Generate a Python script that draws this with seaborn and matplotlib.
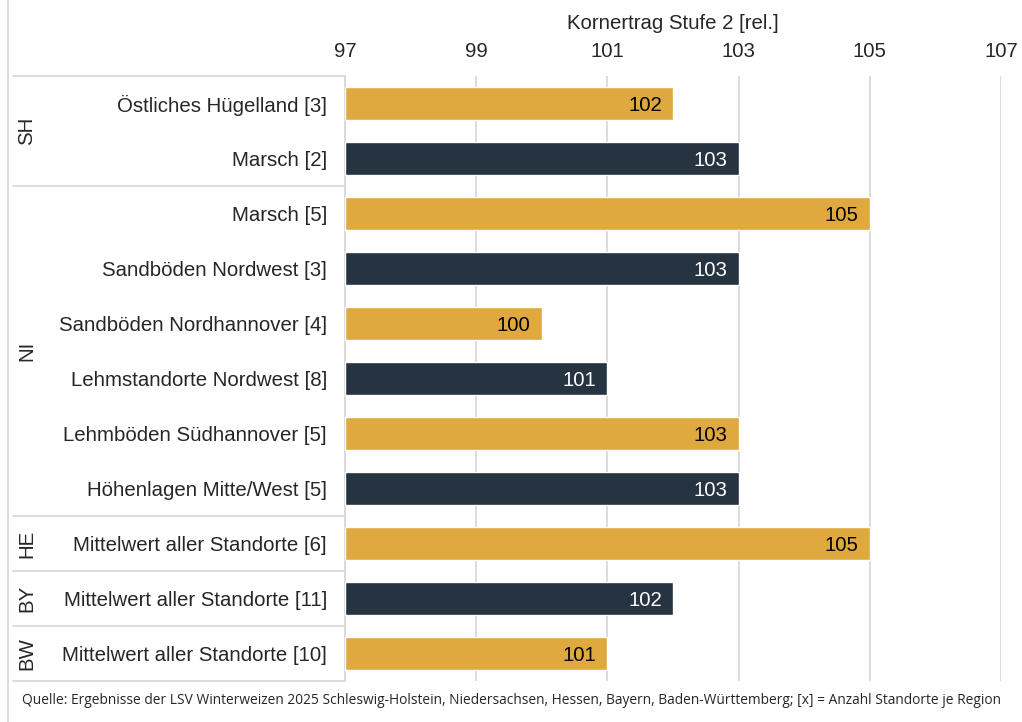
import numpy as np
import pandas as pd
import matplotlib.pyplot as plt
import matplotlib.transforms as mtransforms
from matplotlib.lines import Line2D
import seaborn as sns

# ==============================
# DATA
# ==============================
regions = [
    "Östliches Hügelland [3]",
    "Marsch [2]",
    "Marsch [5]",
    "Sandböden Nordwest [3]",
    "Sandböden Nordhannover [4]",
    "Lehmstandorte Nordwest [8]",
    "Lehmböden Südhannover [5]",
    "Höhenlagen Mitte/West [5]",
    "Mittelwert aller Standorte [6]",
    "Mittelwert aller Standorte [11]",
    "Mittelwert aller Standorte [10]",
]
yields = [102, 103, 105, 103, 100, 101, 103, 103, 105, 102, 101]
states = ["SH", "NI", "HE", "BY", "BW"]
state_rows = [2, 6, 1, 1, 1]   # number of rows per state
x_ticks = [97, 99, 101, 103, 105, 107]

GOLD = "#E0A940"
NAVY = "#263340"
GRID = "#D9D9D9"
FS = 14.7

df = pd.DataFrame({"region": regions, "value": yields})
df["shade"] = ["a" if i % 2 == 0 else "b" for i in range(len(df))]

# ==============================
# PLOT
# ==============================
sns.set_style("white")
plt.rcParams["font.family"] = ["Liberation Sans", "DejaVu Sans"]

W, H = 1022, 722
fig = plt.figure(figsize=(W / 100, H / 100), dpi=100)
L, R, T, B = 345, 1001, 76, 681
ax = fig.add_axes([L / W, 1 - B / H, (R - L) / W, (B - T) / H])

sns.barplot(
    data=df, x="value", y="region", hue="shade",
    palette={"a": GOLD, "b": NAVY}, saturation=1, dodge=False, legend=False,
    orient="h", width=0.6, ax=ax, zorder=3,
)
for p in ax.patches:
    p.set_x(97)
    p.set_width(p.get_width() - 97)

ax.set_xlim(97, 107)
ax.set_ylim(len(regions) - 0.5, -0.5)
ax.xaxis.tick_top()
ax.xaxis.set_label_position("top")
ax.set_xticks(x_ticks)
ax.set_xticklabels([str(t) for t in x_ticks], fontsize=FS)
ax.tick_params(axis="x", length=0, pad=11)
ax.set_xlabel("Kornertrag Stufe 2 [rel.]", fontsize=FS, labelpad=9)
ax.set_ylabel("")
ax.set_yticks(range(len(regions)))
ax.set_yticklabels(regions, fontsize=FS)
ax.tick_params(axis="y", length=0, pad=13)
ax.grid(axis="x", color=GRID, linewidth=1.3, zorder=0)
for s in ["top", "right", "bottom"]:
    ax.spines[s].set_visible(False)
ax.spines["left"].set_color(GRID)
ax.spines["left"].set_linewidth(1.3)

# value labels
for i, v in enumerate(yields):
    col = "black" if i % 2 == 0 else "white"
    ax.text(v - 0.17, i, str(v), ha="right", va="center_baseline", fontsize=FS,
            color=col, zorder=4)

# left table with state groups
trans = mtransforms.blended_transform_factory(ax.transAxes, ax.transData)
x_left = (13 - L) / (R - L)
edges = [-0.5]
for n in state_rows:
    edges.append(edges[-1] + n)
for e in edges:
    ax.add_line(Line2D([x_left, 0], [e, e], transform=trans, color=GRID,
                       linewidth=1.3, clip_on=False))
start = -0.5
x_state = (27 - L) / (R - L)
for st, n in zip(states, state_rows):
    ax.text(x_state, start + n / 2, st, transform=trans, rotation=90,
            ha="center", va="center", fontsize=FS)
    start += n

# figure border line on the left
fig.add_artist(Line2D([8 / W, 8 / W], [0, 1], color=GRID, linewidth=1.3))

fig.text(22 / W, 1 - 700 / H,
         "Quelle: Ergebnisse der LSV Winterweizen 2025 Schleswig-Holstein, "
         "Niedersachsen, Hessen, Bayern, Baden-Württemberg; [x] = Anzahl Standorte je Region",
         fontsize=9.9, family=["Open Sans", "DejaVu Sans"], va="center", ha="left")

fig.savefig("out.png", dpi=100)
